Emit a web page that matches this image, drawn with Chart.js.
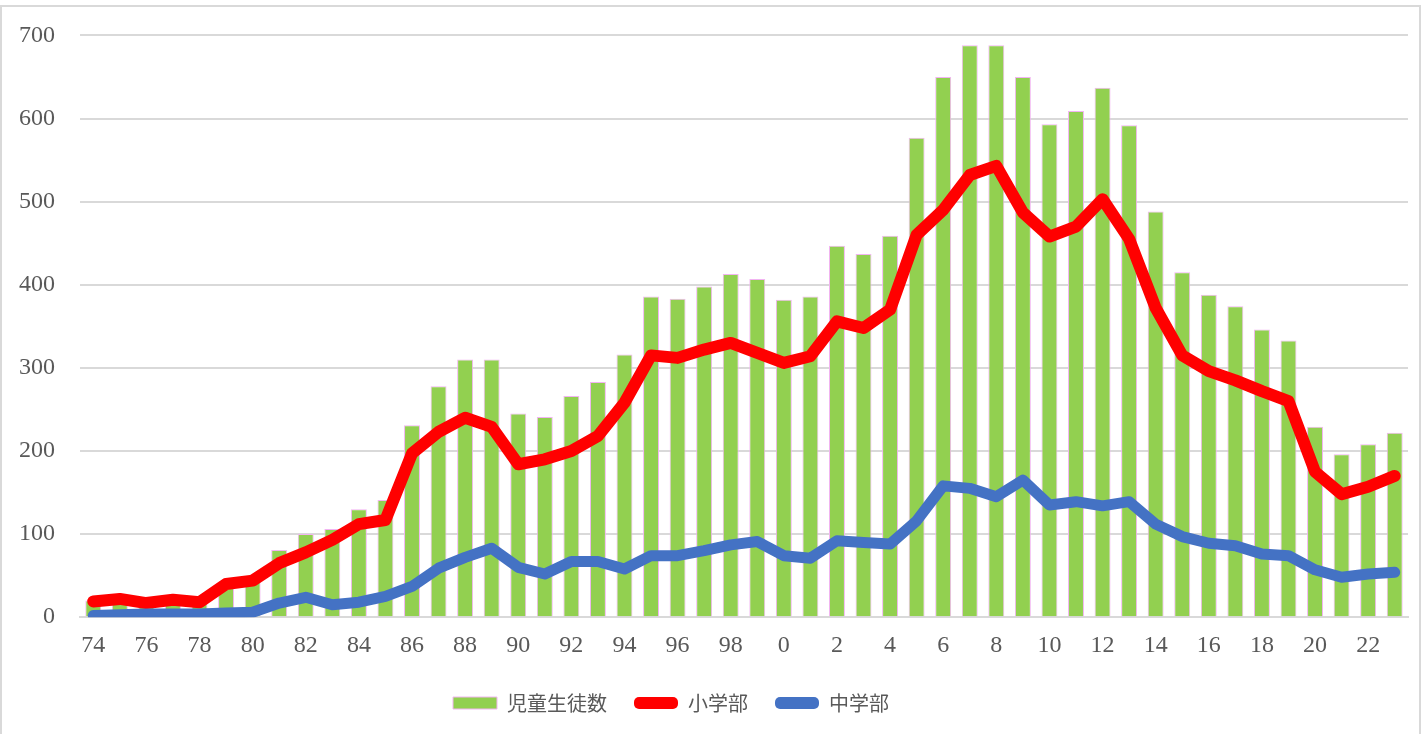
<!DOCTYPE html>
<html>
<head>
<meta charset="utf-8">
<script src="https://cdn.jsdelivr.net/npm/chart.js@4"></script>
<style>
  html, body { margin: 0; padding: 0; background: #fff; overflow: hidden; }
  #frame { position: absolute; left: 0; top: 5px; width: 1421px; height: 740px; border: 2px solid #d9d9d9; border-bottom: none; box-sizing: border-box; }
  #wrap { position: absolute; left: 0; top: -4px; width: 1423px; height: 735px; }
</style>
</head>
<body>
<div id="frame"></div>
<div id="wrap"><canvas id="chart"></canvas></div>
<script>
// years 1974..2023, shown as two-digit labels
const years = ['74','75','76','77','78','79','80','81','82','83','84','85','86','87','88','89',
  '90','91','92','93','94','95','96','97','98','99','0','1','2','3','4','5','6','7','8','9',
  '10','11','12','13','14','15','16','17','18','19','20','21','22','23'];

const totalStudents = [20, 22, 17, 20, 18, 40, 45, 81, 100, 106, 130, 141, 231, 278, 310, 310,
  245, 241, 266, 283, 316, 386, 383, 398, 413, 407, 382, 386, 447, 437, 459, 577, 650, 688, 688, 650,
  593, 609, 637, 592, 488, 415, 388, 374, 346, 333, 229, 196, 208, 222];

const elementary = [19, 22, 17, 21, 18, 40, 44, 65, 78, 93, 112, 117, 197, 223, 240, 229,
  184, 190, 200, 218, 258, 315, 312, 322, 330, 318, 306, 314, 356, 348, 370, 460, 490, 532, 543, 487,
  458, 470, 503, 455, 372, 315, 296, 285, 272, 260, 175, 148, 157, 170];

const juniorHigh = [2, 3, 4, 4, 4, 5, 6, 17, 24, 15, 18, 25, 37, 59, 72, 83,
  60, 52, 67, 67, 58, 74, 74, 80, 87, 91, 74, 71, 92, 90, 88, 116, 158, 155, 145, 165,
  135, 139, 134, 139, 112, 97, 89, 86, 76, 74, 57, 48, 52, 54];

const seriesNames = ['児童生徒数', '小学部', '中学部'];
const yTicks = [0, 100, 200, 300, 400, 500, 600, 700];

const numFont = { family: "'Liberation Serif', 'DejaVu Serif', serif", size: 24 };
const jpFont = { family: "'Noto Sans CJK JP', sans-serif", size: 20 };

// the legend in the original sits a little left of centre
const legendShift = {
  id: 'legendShift',
  afterLayout(chart) {
    const lg = chart.legend;
    if (lg) { lg.left -= 42; lg.right -= 42; }
  }
};

const ctx = document.getElementById('chart').getContext('2d');
const chart = new Chart(ctx, {
  type: 'bar',
  data: {
    labels: years,
    datasets: [
      {
        type: 'line',
        label: seriesNames[2],
        data: juniorHigh,
        borderColor: '#4472c4',
        backgroundColor: '#4472c4',
        borderWidth: 11,
        pointRadius: 0,
        borderCapStyle: 'round',
        borderJoinStyle: 'round',
        tension: 0,
        order: 1
      },
      {
        type: 'line',
        label: seriesNames[1],
        data: elementary,
        borderColor: '#ff0000',
        backgroundColor: '#ff0000',
        borderWidth: 12,
        pointRadius: 0,
        borderCapStyle: 'round',
        borderJoinStyle: 'round',
        tension: 0,
        order: 2
      },
      {
        label: seriesNames[0],
        data: totalStudents,
        backgroundColor: '#92d050',
        borderColor: '#f2b4f2',
        borderWidth: 1,
        categoryPercentage: 1,
        barPercentage: 0.6,
        order: 3
      }
    ]
  },
  options: {
    responsive: true,
    maintainAspectRatio: false,
    animation: false,
    layout: { padding: { left: 18, right: 15, top: 20, bottom: 8 } },
    plugins: {
      tooltip: { enabled: false },
      legend: {
        position: 'bottom',
        labels: {
          font: jpFont,
          color: '#595959',
          padding: 27,
          boxWidth: 44,
          boxHeight: 12,
          generateLabels(chart) {
            // bar first, then red, then blue, as in the original legend
            const order = [2, 1, 0];
            return order.map(i => {
              const ds = chart.data.datasets[i];
              const isBar = !ds.type;
              return {
                text: ds.label,
                fillStyle: ds.backgroundColor,
                strokeStyle: isBar ? ds.borderColor : ds.backgroundColor,
                lineWidth: isBar ? 1 : 0,
                borderRadius: isBar ? 0 : 5,
                fontColor: '#595959',
                hidden: false,
                datasetIndex: i
              };
            });
          }
        }
      }
    },
    scales: {
      x: {
        offset: true,
        grid: { display: false },
        border: { color: '#d9d9d9', width: 2 },
        ticks: {
          font: numFont,
          color: '#595959',
          autoSkip: false,
          maxRotation: 0,
          padding: 6,
          callback: (v, i) => (i % 2 === 0 ? years[i] : '')
        }
      },
      y: {
        min: 0,
        max: 700,
        afterBuildTicks: (axis) => { axis.ticks = yTicks.map(v => ({ value: v })); },
        afterFit: (axis) => { axis.width = 62; },
        grid: { color: '#d9d9d9', lineWidth: 2, drawTicks: false },
        border: { display: false },
        ticks: { font: numFont, color: '#595959', padding: 25 }
      }
    }
  },
  plugins: [legendShift]
});
</script>
</body>
</html>
